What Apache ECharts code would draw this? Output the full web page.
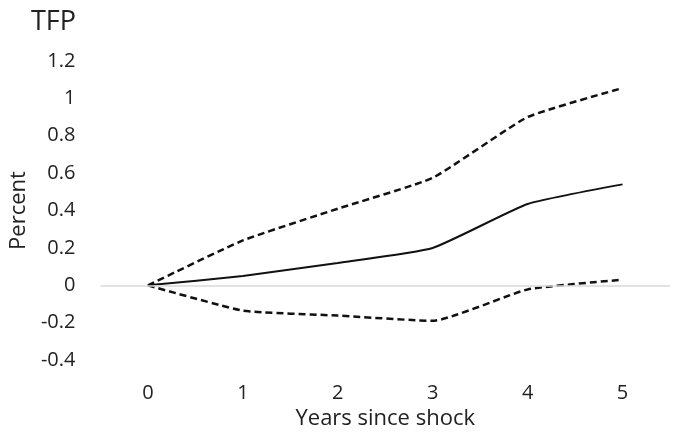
<!DOCTYPE html>
<html>
<head>
<meta charset="utf-8">
<script src="https://cdn.jsdelivr.net/npm/echarts@6/dist/echarts.min.js"></script>
<style>html,body{margin:0;padding:0;background:#fff;}#c{width:675px;height:435px;}</style>
</head>
<body>
<div id="c"></div>
<script>
var years = ['0', '1', '2', '3', '4', '5'];
var estimate = [0, 0.05, 0.12, 0.2, 0.435, 0.54];
var upperBand = [0, 0.24, 0.41, 0.575, 0.9, 1.055];
var lowerBand = [0, -0.135, -0.162, -0.19, -0.022, 0.03];
var yMin = -0.4, yMax = 1.2, yStep = 0.2;

var FONT = '"Open Sans", sans-serif';
var chart = echarts.init(document.getElementById('c'), null, {renderer: 'canvas'});
chart.setOption({
  backgroundColor: '#fff',
  animation: false,
  title: {
    text: 'TFP', left: 26, top: 4,
    textStyle: {fontFamily: FONT, fontSize: 27, fontWeight: 'normal', color: '#222'}
  },
  grid: {left: 97, right: 5, top: 61, bottom: 69, containLabel: false},
  xAxis: {
    type: 'category', data: years, boundaryGap: true,
    name: 'Years since shock', nameLocation: 'middle', nameGap: 42,
    nameTextStyle: {fontFamily: FONT, fontSize: 22, color: '#222'},
    axisLine: {show: false}, axisTick: {show: false},
    axisLabel: {fontFamily: FONT, fontSize: 20, color: '#222', margin: 23},
    splitLine: {show: false}
  },
  yAxis: {
    type: 'value', min: yMin, max: yMax, interval: yStep,
    name: 'Percent', nameLocation: 'middle', nameGap: 66, nameRotate: 90,
    nameTextStyle: {fontFamily: FONT, fontSize: 22, color: '#222'},
    axisLine: {show: false}, axisTick: {show: false},
    axisLabel: {fontFamily: FONT, fontSize: 20, color: '#222', margin: 25},
    splitLine: {show: false}
  },
  series: [
    {
      type: 'line', data: estimate, smooth: 0.15, symbol: 'none', z: 3,
      lineStyle: {color: '#111', width: 2},
      markLine: {
        silent: true, symbol: 'none', label: {show: false},
        lineStyle: {color: '#d9d9d9', type: 'solid', width: 1.5},
        data: [{yAxis: 0}]
      }
    },
    {
      type: 'line', data: upperBand, smooth: 0.15, symbol: 'none', z: 3,
      lineStyle: {color: '#111', width: 2.5, type: [7, 4]}
    },
    {
      type: 'line', data: lowerBand, smooth: 0.15, symbol: 'none', z: 3,
      lineStyle: {color: '#111', width: 2.5, type: [7, 4]}
    }
  ]
});
</script>
</body>
</html>
